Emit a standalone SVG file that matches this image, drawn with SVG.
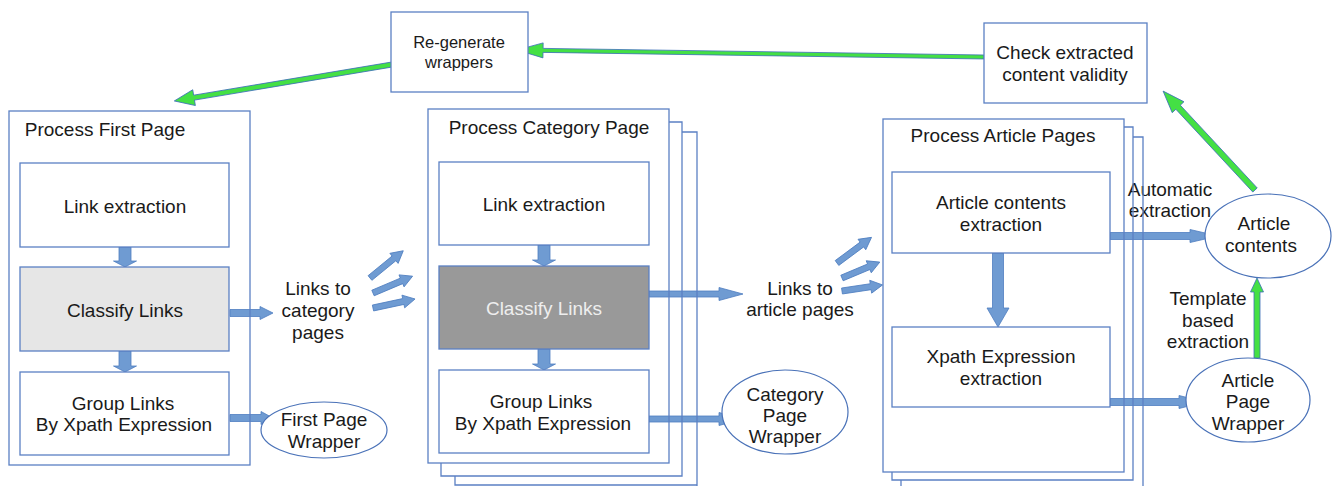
<svg xmlns="http://www.w3.org/2000/svg" width="1333" height="486" viewBox="0 0 1333 486">
<style>
.box{fill:#ffffff;stroke:#5b80c4;stroke-width:1.3}
.frame{fill:none;stroke:#5b80c4;stroke-width:1.3}
.ell{fill:#ffffff;stroke:#4a72b8;stroke-width:1.2}
.barrow{fill:#6f9bd2;stroke:#4f7ec0;stroke-width:0.8}
.garrow{fill:#44e044;stroke:#3c6fb8;stroke-width:0.8}
text{font-family:"Liberation Sans",Arial,sans-serif;font-size:19px;fill:#1a1a1a;text-anchor:middle}
.small{font-size:16.5px}
.light{fill:#eeeeee}
</style>
<rect x="0" y="0" width="1333" height="486" fill="#ffffff"/>

<g id="connectors">
  <!-- left panel internal -->
  <polygon class="barrow" points="119,247 131,247 131,261 136.5,261 125,267 113.5,261 119,261"/>
  <polygon class="barrow" points="119,351 131,351 131,366 136.5,366 125,372 113.5,366 119,366"/>
  <polygon class="barrow" transform="translate(230,313)" points="0,-3.5 30,-3.5 30,-6.5 43,0 30,6.5 30,3.5 0,3.5"/>
  <polygon class="barrow" transform="translate(230,418)" points="0,-3.5 31,-3.5 31,-6.5 43,0 31,6.5 31,3.5 0,3.5"/>
  <!-- links to category pages fan -->
  <polygon class="barrow" transform="translate(370,278) rotate(-39.3)" points="0,-3 31,-3 31,-6.5 43,0 31,6.5 31,3 0,3"/>
  <polygon class="barrow" transform="translate(373,293) rotate(-23)" points="0,-3 31,-3 31,-6.5 43,0 31,6.5 31,3 0,3"/>
  <polygon class="barrow" transform="translate(373,308) rotate(-12.1)" points="0,-3 31,-3 31,-6.5 43,0 31,6.5 31,3 0,3"/>
  <!-- middle panel internal -->
  <polygon class="barrow" points="538,245 550,245 550,260 555.5,260 544,266 532.5,260 538,260"/>
  <polygon class="barrow" points="538,349 550,349 550,364 555.5,364 544,370 532.5,364 538,364"/>
  <polygon class="barrow" transform="translate(649,294)" points="0,-3 70,-3 70,-6.5 94,0 70,6.5 70,3 0,3"/>
  <polygon class="barrow" transform="translate(649,419)" points="0,-3 70,-3 70,-6.5 94,0 70,6.5 70,3 0,3"/>
  <!-- links to article pages fan -->
  <polygon class="barrow" transform="translate(837,263) rotate(-36.6)" points="0,-3 31,-3 31,-6.5 43,0 31,6.5 31,3 0,3"/>
  <polygon class="barrow" transform="translate(842,278) rotate(-22.8)" points="0,-3 29,-3 29,-6.5 41,0 29,6.5 29,3 0,3"/>
  <polygon class="barrow" transform="translate(842,291) rotate(-8.5)" points="0,-3 29,-3 29,-6.5 41,0 29,6.5 29,3 0,3"/>
  <!-- right panel internal -->
  <polygon class="barrow" points="992.5,253 1003.5,253 1003.5,308 1009,308 998,327 987,308 992.5,308"/>
  <polygon class="barrow" transform="translate(1110,236)" points="0,-3.5 80,-3.5 80,-6.5 108,0 80,6.5 80,3.5 0,3.5"/>
  <polygon class="barrow" transform="translate(1110,402)" points="0,-3.5 69,-3.5 69,-6.5 95,0 69,6.5 69,3.5 0,3.5"/>
  <!-- green feedback arrows -->
  <polygon class="garrow" transform="translate(1257,358) rotate(-90)" points="0,-3 66,-3 66,-6.5 80,0 66,6.5 66,3 0,3"/>
  <polygon class="garrow" transform="translate(1255,190) rotate(-132.9)" points="0,-3 113,-3 113,-8 135,0 113,8 113,3 0,3"/>
  <polygon class="garrow" transform="translate(984,57) rotate(-179.14)" points="0,-2 441,-2 441,-7.5 467,0 441,7.5 441,2 0,2"/>
  <polygon class="garrow" transform="translate(413,61) rotate(170.5)" points="0,-2.5 222,-2.5 222,-8 242,0 222,8 222,2.5 0,2.5"/>
  <!-- labels on connectors -->
  <text x="318" y="295">Links to</text>
  <text x="318" y="317">category</text>
  <text x="318" y="339">pages</text>
  <text x="800" y="295">Links to</text>
  <text x="800" y="316">article pages</text>
  <text x="1170" y="196">Automatic</text>
  <text x="1170" y="217">extraction</text>
  <text x="1208" y="305">Template</text>
  <text x="1208" y="327">based</text>
  <text x="1208" y="348">extraction</text>
</g>

<g id="regenerate-wrappers">
  <rect class="box" x="391" y="12" width="137" height="80"/>
  <text class="small" x="459" y="48">Re-generate</text>
  <text class="small" x="459" y="68">wrappers</text>
</g>

<g id="check-validity">
  <rect class="box" x="984" y="23" width="163" height="80"/>
  <text x="1065" y="59">Check extracted</text>
  <text x="1065" y="81">content validity</text>
</g>

<g id="process-first-page">
  <rect class="frame" x="9" y="111" width="241" height="354"/>
  <text x="105" y="136">Process First Page</text>
</g>
<g id="fp-link-extraction">
  <rect class="box" x="20" y="163" width="209" height="84"/>
  <text x="125" y="213">Link extraction</text>
</g>
<g id="fp-classify-links">
  <rect class="box" x="20" y="267" width="209" height="84" style="fill:#e6e6e6"/>
  <text x="125" y="317">Classify Links</text>
</g>
<g id="fp-group-links">
  <rect class="box" x="20" y="372" width="209" height="83"/>
  <text x="123" y="410">Group Links</text>
  <text x="124" y="431">By Xpath Expression</text>
</g>
<g id="first-page-wrapper">
  <ellipse class="ell" cx="324" cy="430" rx="63" ry="28"/>
  <text x="324" y="426">First Page</text>
  <text x="324" y="448">Wrapper</text>
</g>

<g id="process-category-page">
  <polyline class="frame" points="682,132 697,132 697,486"/>
  <polyline class="frame" points="455,476 455,485 697,485"/>
  <polyline class="frame" points="669,122 682,122 682,476 441,476 441,463"/>
  <rect class="frame" x="428" y="109" width="241" height="354"/>
  <text x="549" y="134">Process Category Page</text>
</g>
<g id="cp-link-extraction">
  <rect class="box" x="439" y="162" width="210" height="83"/>
  <text x="544" y="211">Link extraction</text>
</g>
<g id="cp-classify-links">
  <rect class="box" x="439" y="266" width="210" height="83" style="fill:#999999"/>
  <text class="light" x="544" y="315">Classify Links</text>
</g>
<g id="cp-group-links">
  <rect class="box" x="439" y="370" width="210" height="83"/>
  <text x="541" y="408">Group Links</text>
  <text x="543" y="430">By Xpath Expression</text>
</g>
<g id="category-page-wrapper">
  <ellipse class="ell" cx="785" cy="412" rx="63" ry="42"/>
  <text x="785" y="401">Category</text>
  <text x="785" y="422">Page</text>
  <text x="785" y="443">Wrapper</text>
</g>

<g id="process-article-pages">
  <polyline class="frame" points="1133,137 1143,137 1143,490"/>
  <polyline class="frame" points="1124,127 1133,127 1133,480 892,480 892,472"/>
  <line class="frame" x1="901" y1="480" x2="901" y2="490"/>
  <rect class="frame" x="883" y="119" width="241" height="353"/>
  <text x="1003" y="142">Process Article Pages</text>
</g>
<g id="article-contents-extraction">
  <rect class="box" x="892" y="172" width="218" height="81"/>
  <text x="1001" y="209">Article contents</text>
  <text x="1001" y="231">extraction</text>
</g>
<g id="xpath-expression-extraction">
  <rect class="box" x="892" y="327" width="218" height="80"/>
  <text x="1001" y="363">Xpath Expression</text>
  <text x="1001" y="385">extraction</text>
</g>
<g id="article-contents">
  <ellipse class="ell" cx="1268" cy="236" rx="63" ry="42"/>
  <text x="1264" y="230">Article</text>
  <text x="1261" y="252">contents</text>
</g>
<g id="article-page-wrapper">
  <ellipse class="ell" cx="1248" cy="400" rx="62" ry="42"/>
  <text x="1248" y="387">Article</text>
  <text x="1248" y="408">Page</text>
  <text x="1248" y="430">Wrapper</text>
</g>
</svg>
